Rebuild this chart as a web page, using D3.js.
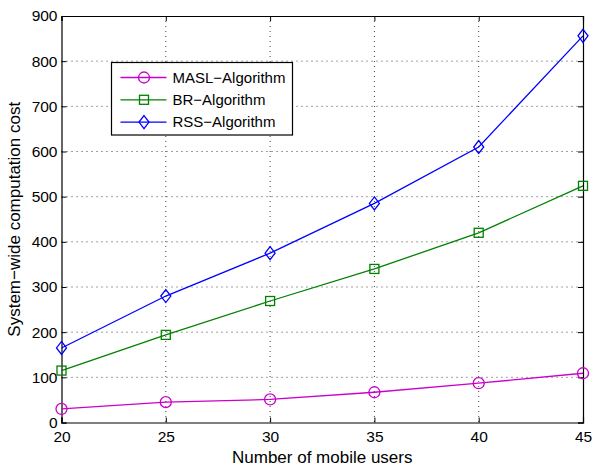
<!DOCTYPE html>
<html>
<head>
<meta charset="utf-8">
<script src="https://cdn.jsdelivr.net/npm/d3@7"></script>
<style>
  body { margin: 0; background: #fff; }
  text { font-family: "Liberation Sans", Arial, sans-serif; }
</style>
</head>
<body>
<div id="chart"></div>
<script>
// data
const users = [20, 25, 30, 35, 40, 45];
const masl = [30, 45, 51, 67, 87, 109];
const br = [115, 194, 269, 340, 420, 524];
const rss = [165, 280, 375, 485, 610, 856];
const xTicks = [20, 25, 30, 35, 40, 45];
const yTicks = [0, 100, 200, 300, 400, 500, 600, 700, 800, 900];

const series = [
  { name: "MASL\u2212Algorithm", values: masl, color: "#cc00cc", marker: "circle" },
  { name: "BR\u2212Algorithm", values: br, color: "#008000", marker: "square" },
  { name: "RSS\u2212Algorithm", values: rss, color: "#0000ff", marker: "diamond" }
];

const W = 592, H = 468;
const margin = { top: 16, right: 9, bottom: 45.5, left: 61.5 };
const width = W - margin.left - margin.right;
const height = H - margin.top - margin.bottom;

const svg = d3.select("#chart").append("svg")
  .attr("width", W)
  .attr("height", H);

const g = svg.append("g")
  .attr("transform", `translate(${margin.left},${margin.top})`);

const x = d3.scaleLinear().domain([20, 45]).range([0, width]);
const y = d3.scaleLinear().domain([0, 900]).range([height, 0]);

// dotted grid
g.append("g").selectAll("line")
  .data(xTicks.slice(1, -1))
  .join("line")
  .attr("x1", d => x(d)).attr("x2", d => x(d))
  .attr("y1", 0).attr("y2", height)
  .attr("stroke", "#444").attr("stroke-width", 1)
  .attr("stroke-dasharray", "1,4");

g.append("g").selectAll("line")
  .data(yTicks.slice(1, -1))
  .join("line")
  .attr("x1", 0).attr("x2", width)
  .attr("y1", d => y(d)).attr("y2", d => y(d))
  .attr("stroke", "#444").attr("stroke-width", 1)
  .attr("stroke-dasharray", "1,4");

// axes with inward ticks (MATLAB style)
const tickFont = 15.5;
const legendFont = 15;
const labelFont = 17;
const xAxis = g.append("g")
  .attr("transform", `translate(0,${height})`)
  .call(d3.axisBottom(x).tickValues(xTicks).tickSize(-5).tickPadding(8));
const yAxis = g.append("g")
  .call(d3.axisLeft(y).tickValues(yTicks).tickSize(-5).tickPadding(4));
const xTop = g.append("g")
  .call(d3.axisTop(x).tickValues(xTicks).tickSize(-5).tickFormat(""));
const yRight = g.append("g")
  .attr("transform", `translate(${width},0)`)
  .call(d3.axisRight(y).tickValues(yTicks).tickSize(-5).tickFormat(""));

[xAxis, yAxis, xTop, yRight].forEach(a => {
  a.select(".domain").attr("stroke", "#000").attr("stroke-width", 1.2);
  a.selectAll(".tick line").attr("stroke", "#000");
  a.selectAll("text").attr("fill", "#000").attr("font-size", tickFont)
    .attr("font-family", "Liberation Sans, Arial, sans-serif");
});

// lines and markers
const line = d3.line()
  .x((d, i) => x(users[i]))
  .y(d => y(d));

function drawMarker(sel, type, color) {
  if (type === "circle") {
    sel.append("circle").attr("r", 5.5)
      .attr("fill", "none").attr("stroke", color).attr("stroke-width", 1.3);
  } else if (type === "square") {
    sel.append("rect").attr("x", -4.5).attr("y", -4.5)
      .attr("width", 9).attr("height", 9)
      .attr("fill", "none").attr("stroke", color).attr("stroke-width", 1.3);
  } else {
    sel.append("path").attr("d", "M0,-6.5L5,0L0,6.5L-5,0Z")
      .attr("fill", "none").attr("stroke", color).attr("stroke-width", 1.3);
  }
}

series.forEach(s => {
  g.append("path")
    .datum(s.values)
    .attr("d", line)
    .attr("fill", "none")
    .attr("stroke", s.color)
    .attr("stroke-width", 1.3);

  g.append("g").selectAll("g")
    .data(s.values)
    .join("g")
    .attr("transform", (d, i) => `translate(${x(users[i])},${y(d)})`)
    .each(function () { drawMarker(d3.select(this), s.marker, s.color); });
});

// legend
const legend = svg.append("g").attr("transform", "translate(111.5,62.5)");
legend.append("rect")
  .attr("width", 181).attr("height", 72.5)
  .attr("fill", "#fff").attr("stroke", "#000").attr("stroke-width", 1.2);

series.forEach((s, i) => {
  const row = legend.append("g").attr("transform", `translate(0,${15 + i * 22.3})`);
  row.append("line")
    .attr("x1", 9).attr("x2", 55)
    .attr("stroke", s.color).attr("stroke-width", 1.3);
  drawMarker(row.append("g").attr("transform", "translate(32.5,0)"), s.marker, s.color);
  row.append("text")
    .attr("x", 61).attr("y", 5.3)
    .attr("font-size", legendFont)
    .text(s.name);
});

// axis labels
svg.append("text")
  .attr("x", margin.left + width / 2)
  .attr("y", 462.5)
  .attr("text-anchor", "middle")
  .attr("font-size", labelFont)
  .text("Number of mobile users");

svg.append("text")
  .attr("transform", `translate(20,${margin.top + height / 2}) rotate(-90)`)
  .attr("text-anchor", "middle")
  .attr("font-size", labelFont)
  .text("System\u2212wide computation cost");
</script>
</body>
</html>
